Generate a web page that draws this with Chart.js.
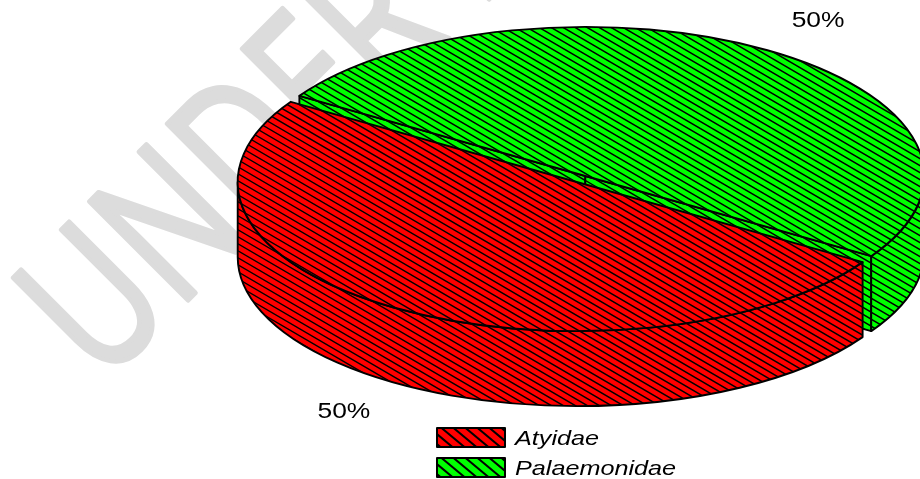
<!DOCTYPE html>
<html>
<head>
<meta charset="utf-8">
<script src="https://cdn.jsdelivr.net/npm/chart.js@4.4.0/dist/chart.umd.min.js"></script>
<style>
    html, body { margin: 0; padding: 0; background: #fff; }
    #wrap { width: 920px; height: 479px; }
</style>
</head>
<body>
<div id="wrap"><canvas id="pieChart" width="920" height="479"></canvas></div>
<script>
// Data
const families = ['Atyidae', 'Palaemonidae'];
const shares = [50, 50];
const shareLabels = ['50%', '50%'];
const fillColors = ['#ff0000', '#00ff00'];

// 3D look
const TILT = 0.44;   // vertical squash of the pie top
const DEPTH = 75;    // wall height in screen px
const TEXT_STRETCH = 1.2;

// diagonal hatch (screen space), clipped to a path
function hatch(ctx, path, step, rise, lw) {
    const W = ctx.canvas.width, H = ctx.canvas.height;
    const slope = rise / step;
    ctx.save();
    ctx.clip(path);
    ctx.beginPath();
    for (let x0 = -Math.ceil(H / slope / step) * step; x0 <= W; x0 += step) {
        ctx.moveTo(x0, 0);
        ctx.lineTo(x0 + H / slope, H);
    }
    ctx.lineWidth = lw;
    ctx.strokeStyle = '#000';
    ctx.stroke();
    ctx.restore();
}

// Geometry of every slice, read back from the arc elements
function sliceGeometry(chart) {
    const meta = chart.getDatasetMeta(0);
    return meta.data.map((el, i) => {
        const p = el.getProps(['x', 'y', 'startAngle', 'endAngle', 'outerRadius', 'circumference']);
        const shift = (el.options.offset || 0) / 4;
        const mid = (p.startAngle + p.endAngle) / 2;
        const fix = 1 - Math.sin(Math.min(Math.PI, p.circumference));
        return {
            el, i, mid,
            px: p.x, py: p.y,
            start: p.startAngle, end: p.endAngle,
            cx: p.x + Math.cos(mid) * shift,
            cy: p.y + Math.sin(mid) * shift,
            r: p.outerRadius + shift * fix
        };
    });
}

function frontSpans(s, e) {
    const spans = [];
    for (let k = -2; k <= 2; k++) {
        const lo = Math.max(s, 2 * Math.PI * k);
        const hi = Math.min(e, 2 * Math.PI * k + Math.PI);
        if (hi > lo + 1e-6) spans.push([lo, hi]);
    }
    return spans;
}

const watermark = {
    id: 'watermark',
    beforeDraw(chart) {
        const ctx = chart.ctx;
        ctx.save();
        ctx.translate(102, 386);
        ctx.rotate(-Math.PI / 4);
        ctx.scale(0.75, 1);
        ctx.fillStyle = '#dcdcdc';
        ctx.strokeStyle = '#dcdcdc';
        ctx.lineWidth = 5;
        ctx.lineJoin = 'round';
        ctx.font = '195px "Open Sans"';
        ctx.fillText('UNDER REVIEW', 0, 0);
        ctx.strokeText('UNDER REVIEW', 0, 0);
        ctx.restore();
    }
};

const pie3d = {
    id: 'pie3d',
    beforeDatasetsDraw(chart) {
        const ctx = chart.ctx;
        const slices = sliceGeometry(chart);
        if (!slices.length) return;
        const ox = slices[0].px, oy = slices[0].py;
        const wall = DEPTH / TILT;
        const squashM = new DOMMatrix().translate(ox, oy).scale(1, TILT).translate(-ox, -oy);

        const squashed = build => {
            const raw = new Path2D();
            build(raw);
            const p = new Path2D();
            p.addPath(raw, squashM);
            return p;
        };
        const outline = p => {
            ctx.lineWidth = 1.9;
            ctx.strokeStyle = '#000';
            ctx.lineJoin = 'round';
            ctx.stroke(p);
        };
        const face = (color, p) => {
            ctx.fillStyle = color;
            ctx.fill(p);
            hatch(ctx, p, 12, 7, 1.5);
            outline(p);
        };

        // back to front
        slices.slice().sort((a, b) => a.cy - b.cy).forEach(s => {
            const color = fillColors[s.i];
            const { cx, cy, r } = s;

            // cut faces
            [[s.start, s.start - Math.PI / 2], [s.end, s.end + Math.PI / 2]].forEach(([a, n]) => {
                if (Math.sin(n) <= 1e-6) return;
                face(color, squashed(p => {
                    p.moveTo(cx, cy);
                    p.lineTo(cx + Math.cos(a) * r, cy + Math.sin(a) * r);
                    p.lineTo(cx + Math.cos(a) * r, cy + Math.sin(a) * r + wall);
                    p.lineTo(cx, cy + wall);
                    p.closePath();
                }));
            });

            // outer wall
            frontSpans(s.start, s.end).forEach(([b1, b2]) => {
                face(color, squashed(p => {
                    p.arc(cx, cy, r, b1, b2);
                    p.lineTo(cx + Math.cos(b2) * r, cy + Math.sin(b2) * r + wall);
                    p.arc(cx, cy + wall, r, b2, b1, true);
                    p.closePath();
                }));
            });

            // top face: the arc element itself, then hatch and outline
            ctx.save();
            ctx.setTransform(ctx.getTransform().multiply(squashM));
            s.el.draw(ctx);
            ctx.restore();
            const top = squashed(p => {
                p.moveTo(cx, cy);
                p.arc(cx, cy, r, s.start, s.end);
                p.closePath();
            });
            hatch(ctx, top, 12, 7, 1.5);
            outline(top);
        });
        return false;
    },
    afterDraw(chart) {
        const ctx = chart.ctx;
        const slices = sliceGeometry(chart);

        // percentage labels
        ctx.save();
        ctx.fillStyle = '#000';
        ctx.font = '22px "Liberation Sans", Arial, sans-serif';
        ctx.textAlign = 'center';
        ctx.textBaseline = 'middle';
        slices.forEach(s => {
            const x = s.cx + Math.cos(s.mid) * s.r * 1.278;
            let y = s.py + (s.cy - s.py + Math.sin(s.mid) * s.r * 1.235) * TILT;
            if (Math.sin(s.mid) > 0) y += DEPTH;
            ctx.save();
            ctx.translate(x, y);
            ctx.scale(TEXT_STRETCH, 1);
            ctx.fillText(shareLabels[s.i], 0, 0);
            ctx.restore();
        });
        ctx.restore();

        // legend
        const lx = 437, ly = 428, gap = 30, bw = 68, bh = 19;
        ctx.save();
        ctx.font = 'italic 21px "Liberation Sans", Arial, sans-serif';
        ctx.textBaseline = 'alphabetic';
        families.forEach((name, i) => {
            const y = ly + i * gap;
            const box = new Path2D();
            box.rect(lx, y, bw, bh);
            ctx.fillStyle = fillColors[i];
            ctx.fill(box);
            hatch(ctx, box, 12, 10, 2);
            ctx.lineWidth = 2;
            ctx.strokeStyle = '#000';
            ctx.stroke(box);
            ctx.save();
            ctx.translate(lx + bw + 10, y + bh / 2 + 7.5);
            ctx.scale(TEXT_STRETCH, 1);
            ctx.fillStyle = '#000';
            ctx.fillText(name, 0, 0);
            ctx.restore();
        });
        ctx.restore();
    }
};

new Chart(document.getElementById('pieChart'), {
    type: 'pie',
    data: {
        labels: families,
        datasets: [{
            data: shares,
            backgroundColor: fillColors,
            borderWidth: 0,
            offset: 32
        }]
    },
    options: {
        responsive: false,
        animation: false,
        rotation: 122.5,
        radius: 331,
        layout: { padding: { left: 402, right: 160, top: 0, bottom: 121 } },
        plugins: {
            legend: { display: false },
            tooltip: { enabled: false }
        }
    },
    plugins: [watermark, pie3d]
});
</script>
</body>
</html>
